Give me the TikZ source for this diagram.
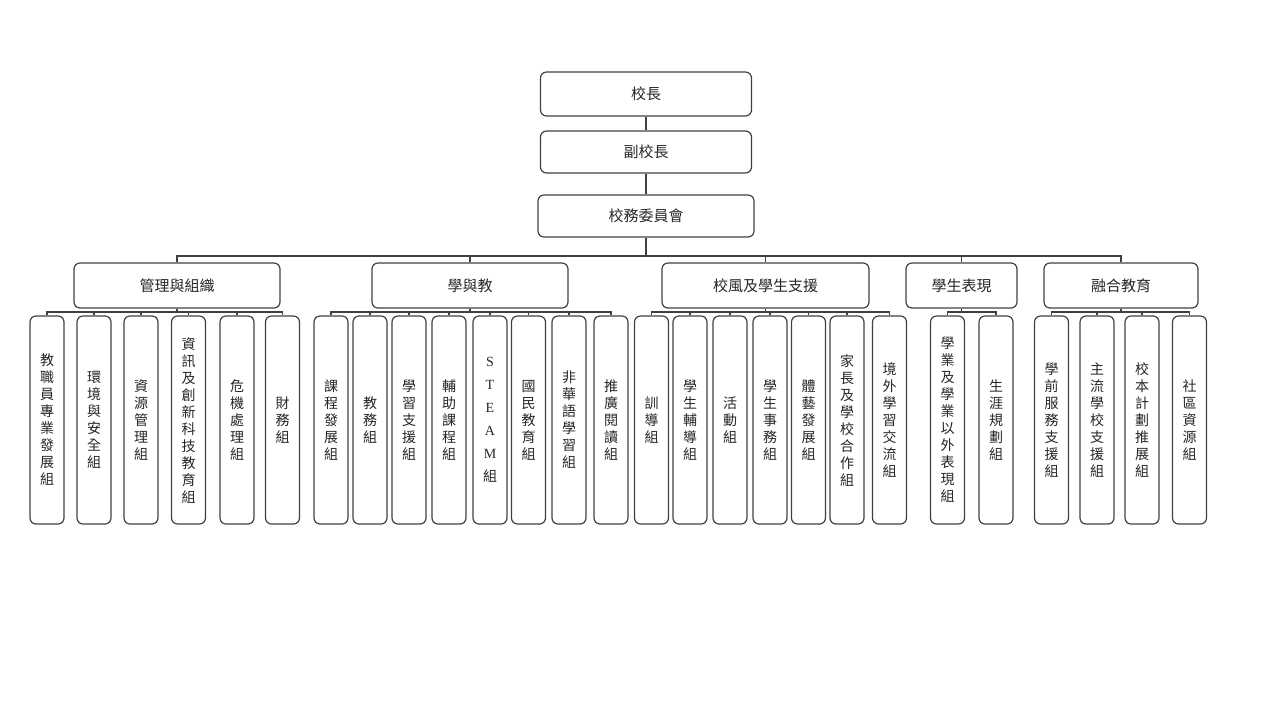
\documentclass[tikz,border=0pt]{standalone}
\usepackage{fontspec}
\setmainfont{Liberation Serif}
\newfontfamily\cjk{Noto Sans CJK TC}
\begin{document}
\begin{tikzpicture}[x=0.5pt, y=-0.5pt,
  every node/.style = {draw=black!75, line width=0.6pt, rounded corners=3pt, text=black!85, font=\cjk\fontsize{7.5}{9}\selectfont},
  head/.style = {minimum height=22.5pt},
  unit/.style = {minimum width=17pt, minimum height=104pt, inner sep=1pt, align=center, font=\cjk\fontsize{7}{8.5}\selectfont},
  link/.style = {draw=black!75, line width=0.6pt}]
\useasboundingbox (0,0) rectangle (1280,720);
\coordinate (top) at (0,256);
\coordinate (sub) at (0,312);
% top of the school
\node[minimum width=105.5pt, minimum height=22pt] (principal) at (646,94) {校長};
\node[minimum width=105.5pt, minimum height=21pt] (vice) at (646,152) {副校長};
\node[minimum width=108pt, minimum height=21pt] (council) at (646,216) {校務委員會};
% the five sections
\node[head, minimum width=103pt] (admin) at (177,285.5) {管理與組織};
\node[head, minimum width=98pt] (learn) at (470,285.5) {學與教};
\node[head, minimum width=103.5pt] (ethos) at (765.5,285.5) {校風及學生支援};
\node[head, minimum width=55.5pt] (perf) at (961.5,285.5) {學生表現};
\node[head, minimum width=77pt] (incl) at (1121,285.5) {融合教育};
% groups
\node[unit] (admin1) at (47,420) {教\\職\\員\\專\\業\\發\\展\\組};
\node[unit] (admin2) at (94,420) {環\\境\\與\\安\\全\\組};
\node[unit] (admin3) at (141,420) {資\\源\\管\\理\\組};
\node[unit] (admin4) at (188.5,420) {資\\訊\\及\\創\\新\\科\\技\\教\\育\\組};
\node[unit] (admin5) at (237,420) {危\\機\\處\\理\\組};
\node[unit] (admin6) at (282.5,420) {財\\務\\組};
\node[unit] (learn1) at (331,420) {課\\程\\發\\展\\組};
\node[unit] (learn2) at (370,420) {教\\務\\組};
\node[unit] (learn3) at (409,420) {學\\習\\支\\援\\組};
\node[unit] (learn4) at (449,420) {輔\\助\\課\\程\\組};
\node[unit] (learn5) at (490,420) {\rmfamily S\\[3pt]\rmfamily T\\[3pt]\rmfamily E\\[3pt]\rmfamily A\\[3pt]\rmfamily M\\[3pt]組};
\node[unit] (learn6) at (528.5,420) {國\\民\\教\\育\\組};
\node[unit] (learn7) at (569,420) {非\\華\\語\\學\\習\\組};
\node[unit] (learn8) at (611,420) {推\\廣\\閱\\讀\\組};
\node[unit] (ethos1) at (651.5,420) {訓\\導\\組};
\node[unit] (ethos2) at (690,420) {學\\生\\輔\\導\\組};
\node[unit] (ethos3) at (730,420) {活\\動\\組};
\node[unit] (ethos4) at (770,420) {學\\生\\事\\務\\組};
\node[unit] (ethos5) at (808.5,420) {體\\藝\\發\\展\\組};
\node[unit] (ethos6) at (847,420) {家\\長\\及\\學\\校\\合\\作\\組};
\node[unit] (ethos7) at (889.5,420) {境\\外\\學\\習\\交\\流\\組};
\node[unit] (perf1) at (947.5,420) {學\\業\\及\\學\\業\\以\\外\\表\\現\\組};
\node[unit] (perf2) at (996,420) {生\\涯\\規\\劃\\組};
\node[unit] (incl1) at (1051.5,420) {學\\前\\服\\務\\支\\援\\組};
\node[unit] (incl2) at (1097,420) {主\\流\\學\\校\\支\\援\\組};
\node[unit] (incl3) at (1142,420) {校\\本\\計\\劃\\推\\展\\組};
\node[unit] (incl4) at (1189.5,420) {社\\區\\資\\源\\組};
\draw[link] (principal.south) -- (vice.north);
\draw[link] (vice.south) -- (council.north);
\foreach \sec in {admin, learn, ethos, perf, incl}
\draw[link] (council.south) -- (council.south |- top) -| (\sec.north);
\foreach \sec/\grp in {admin/admin1, admin/admin2, admin/admin3, admin/admin4, admin/admin5, admin/admin6,
  learn/learn1, learn/learn2, learn/learn3, learn/learn4, learn/learn5, learn/learn6, learn/learn7, learn/learn8,
  ethos/ethos1, ethos/ethos2, ethos/ethos3, ethos/ethos4, ethos/ethos5, ethos/ethos6, ethos/ethos7,
  perf/perf1, perf/perf2, incl/incl1, incl/incl2, incl/incl3, incl/incl4}
\draw[link] (\sec.south) -- (\sec.south |- sub) -| (\grp.north);
\end{tikzpicture}
\end{document}
